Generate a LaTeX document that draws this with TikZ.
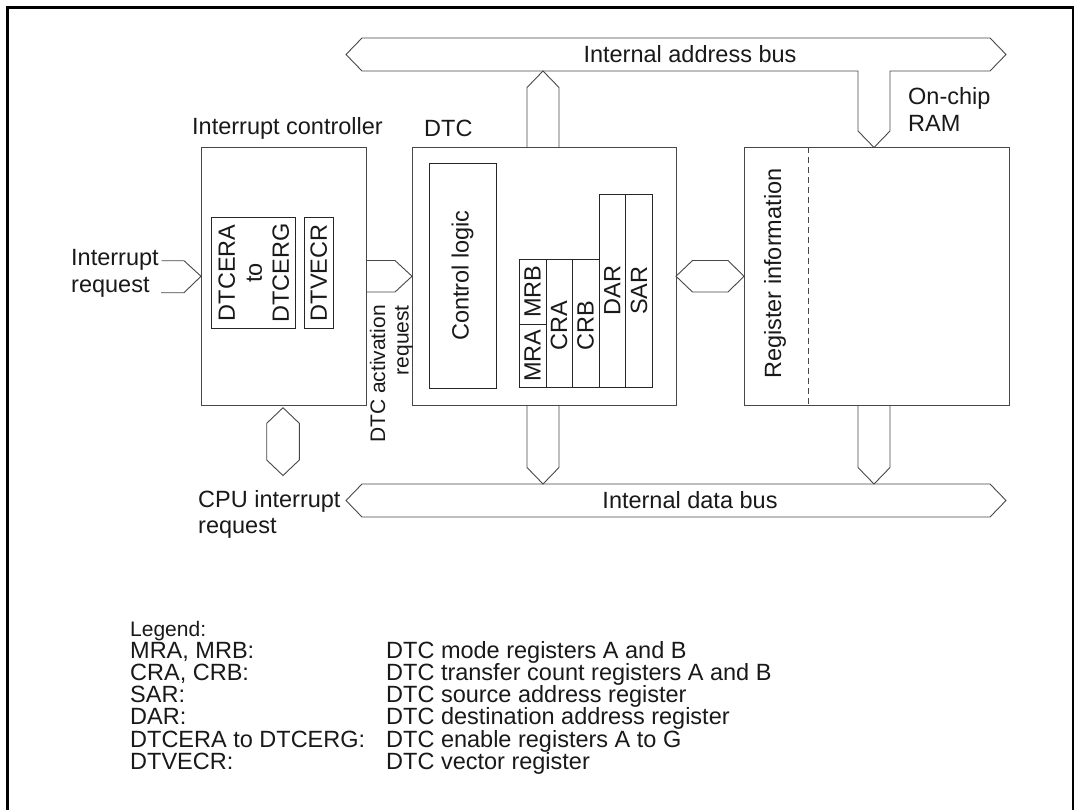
\documentclass[tikz,border=0pt]{standalone}
\usepackage{fontspec}
\setmainfont{Liberation Sans}
\begin{document}
\begin{tikzpicture}[x=1pt,y=-1pt,
  ln/.style={draw=black!72, line width=0.9pt, line join=miter},
  txt/.style={font=\fontsize{23.5}{26.5}\selectfont, inner sep=0pt, text=black!90},
  smalltxt/.style={font=\fontsize{21}{23.5}\selectfont, inner sep=0pt, text=black!90},
  box/.style={ln, inner sep=0pt, outer sep=0pt},
  regbox/.style={draw=black!85, line width=0.8pt, inner sep=0pt, outer sep=0pt},
  vtxt/.style={txt, rotate=90}]
\useasboundingbox (0,0) rectangle (1075,810);
% frame
\draw[line width=2.4pt] (7.5,812) -- (7.5,7.5) -- (1073,7.5) -- (1073,812);

% main blocks
\node[box, minimum width=165pt, minimum height=257.5pt] (ic) at (283.5,276.25) {};
\node[box, minimum width=264pt, minimum height=257.5pt] (dtc) at (544,276.25) {};
\node[box, minimum width=265pt, minimum height=257.5pt] (ram) at (876.5,276.25) {};

% block titles
\node[txt] (ictitle) at (287.5,128.3) {Interrupt controller};
\node[txt, anchor=west] (dtctitle) at (424,128.3) {DTC};
\node[txt, anchor=west, align=left] (ramtitle) at (908,109.3) {On-chip\\RAM};

% interrupt controller registers
\node[regbox, minimum width=84pt, minimum height=111pt] (dtcer) at (253.7,272.8) {};
\node[vtxt, align=center, font=\fontsize{23.5}{27}\selectfont] (dtcertxt) at (dtcer.center) {DTCERA\\to\\DTCERG};
\node[regbox, minimum width=29pt, minimum height=111pt] (dtvecr) at (318.8,272.8) {};
\node[vtxt] (dtvecrtxt) at (dtvecr.center) {DTVECR};

% DTC internals
\node[regbox, minimum width=66.7pt, minimum height=224.7pt] (ctl) at (462.65,275.65) {};
\node[vtxt] (ctltxt) at (ctl.center) {Control logic};

\node[regbox, minimum width=26.7pt, minimum height=64.7pt] (mrb) at (532.65,291.65) {};
\node[regbox, minimum width=26.7pt, minimum height=63.3pt] (mra) at (532.65,355.65) {};
\node[regbox, minimum width=26.3pt, minimum height=128pt] (cra) at (559.15,323.3) {};
\node[regbox, minimum width=26.7pt, minimum height=128pt] (crb) at (585.65,323.3) {};
\node[regbox, minimum width=26.7pt, minimum height=193pt] (dar) at (612.35,290.8) {};
\node[regbox, minimum width=26.6pt, minimum height=193pt] (sar) at (639,290.8) {};
\node[vtxt] at (mrb.center) {MRB};
\node[vtxt] at (mra.center) {MRA};
\node[vtxt] at ([yshift=-2pt]cra.center) {CRA};
\node[vtxt] at ([yshift=-2pt]crb.center) {CRB};
\node[vtxt] at (dar.center) {DAR};
\node[vtxt] at (sar.center) {SAR};

% RAM internals
\draw[ln, dash pattern=on 6pt off 4pt] (808.3,147.5) -- (808.3,405);
\node[vtxt] (reginfo) at (775,273.7) {Register information};

% interrupt request input
\coordinate (irqA) at (161.5,260.7);
\coordinate (irqB) at (161,292.7);
\draw[ln] (irqA) -- (184,260.7) -- (ic.west) -- (184,292.7) -- (irqB);
\node[txt, anchor=west, align=left] (irqtxt) at (71,273.4) {Interrupt\\request};

% DTC activation request
\draw[ln] (ic.east |- 0,260.5) -- (395,260.5) -- (dtc.west) -- (395,292) -- (ic.east |- 0,292);
\node[smalltxt, rotate=90, anchor=east, align=right] (acttxt) at (391.5,305) {DTC activation\\request};

% DTC <-> RAM
\draw[ln] (dtc.east) -- (692.5,260.5) -- (728,260.5) -- (ram.west) -- (728,292) -- (692.5,292) -- cycle;

% internal address bus with connectors
\coordinate (abL) at (346,54.5);
\coordinate (abR) at (1006,54.5);
\coordinate (ramtip) at (874,147.5);
\draw[ln] (858,71) -- (362,71) -- (abL) -- (362,38) -- (990,38) -- (abR) -- (990,71)
  -- (890,71) -- (890,131) -- (ramtip) -- (858,131) -- cycle;
\node[txt] (abtxt) at (690,54.5) {Internal address bus};
\coordinate (dtcup) at (543,71);
\draw[ln] (527,147.5) -- (527,87.5) -- (dtcup) -- (559,87.5) -- (559,147.5);

% internal data bus
\coordinate (dbL) at (346,500.5);
\coordinate (dbR) at (1006,500.5);
\draw[ln] (362,484) -- (990,484) -- (dbR) -- (990,517) -- (362,517) -- (dbL) -- cycle;
\node[txt] (dbtxt) at (690,500.5) {Internal data bus};
\coordinate (dtcdn) at (543,484);
\coordinate (ramdn) at (874,484);
\draw[ln] (527,405) -- (527,467.5) -- (dtcdn) -- (559,467.5) -- (559,405);
\draw[ln] (858,405) -- (858,467.5) -- (ramdn) -- (890,467.5) -- (890,405);

% CPU interrupt request
\draw[ln] (283,407.7) -- (299.3,423.3) -- (299.3,460) -- (283,475.5) -- (266.7,460) -- (266.7,423.3) -- cycle;
\node[txt, anchor=west, align=left] (cputxt) at (198,514.2) {CPU interrupt\\request};

% legend
\node[smalltxt, anchor=base west] (leg) at (130,636) {Legend:};
\foreach \a/\b [count=\i] in {MRA{,} MRB:/DTC mode registers A and B,
  CRA{,} CRB:/DTC transfer count registers A and B,
  SAR:/DTC source address register,
  DAR:/DTC destination address register,
  DTCERA to DTCERG:/DTC enable registers A to G,
  DTVECR:/DTC vector register}{
  \node[txt, anchor=base west] (la\i) at (130,636+22.2*\i) {\a};
  \node[txt, anchor=base west] (lb\i) at (386,636+22.2*\i) {\b};
}
\end{tikzpicture}
\end{document}
